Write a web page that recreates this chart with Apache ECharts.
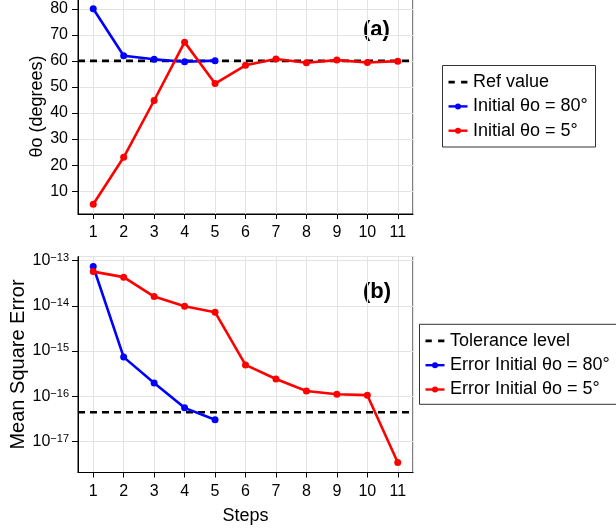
<!DOCTYPE html>
<html>
<head>
<meta charset="utf-8">
<script src="https://cdn.jsdelivr.net/npm/echarts@6/dist/echarts.min.js"></script>
<style>
  html, body { margin: 0; padding: 0; background: #ffffff; }
  #chart { width: 616px; height: 529px; }
</style>
</head>
<body>
<div id="chart"></div>
<script>
// Iteration steps shared by both panels
const steps = [1, 2, 3, 4, 5, 6, 7, 8, 9, 10, 11];
const stepRange = [0.5, 11.5];

// (a) estimated angle per step
const thetaFrom80 = [80, 62.0, 60.6, 59.7, 60.1];
const thetaFrom5 = [5, 23, 44.8, 67.2, 51.3, 58.3, 60.7, 59.3, 60.3, 59.4, 59.9];
const refValue = 60;

// (b) mean square error per step
const errFrom80 = [7.4e-14, 7.3e-16, 1.95e-16, 5.5e-17, 3.0e-17];
const errFrom5 = [5.7e-14, 4.3e-14, 1.6e-14, 9.8e-15, 7.2e-15, 4.9e-16, 2.4e-16, 1.3e-16, 1.1e-16, 1.05e-16, 3.4e-18];
const tolerance = 4.4e-17;

// legend / axis texts
const namesTop = ['Ref value', 'Initial θo = 80°', 'Initial θo = 5°'];
const namesBottom = ['Tolerance level', 'Error Initial θo = 80°', 'Error Initial θo = 5°'];

const FONT = '"Liberation Sans", Arial, Helvetica, sans-serif';
const BLUE = '#0000ff';
const RED = '#ff0000';
const GRID_LINE = '#e3e3e3';
const DASH = [7, 5];

const pairs = (vals) => vals.map((v, i) => [steps[i], v]);
const flat = (v) => stepRange.map((x) => [x, v]);

function xAxisCfg(gridIndex, withName) {
  return {
    type: 'value', gridIndex,
    min: stepRange[0], max: stepRange[1], minInterval: 1, maxInterval: 1,
    name: withName ? 'Steps' : '',
    nameLocation: 'middle', nameGap: 35, nameMoveOverlap: false,
    nameTextStyle: { fontSize: 18, color: '#000', fontFamily: FONT },
    axisLine: { show: true, onZero: false, lineStyle: { color: '#000', width: 1 } },
    axisTick: { show: true, inside: false, length: 5, lineStyle: { color: '#000', width: 1 } },
    axisLabel: { fontSize: 16, color: '#000', margin: 11, fontFamily: FONT, showMinLabel: false, showMaxLabel: false },
    splitLine: { show: true, lineStyle: { color: GRID_LINE, width: 1 } }
  };
}

const lineSeries = (name, data, color, xi, yi) => ({
  name, type: 'line', xAxisIndex: xi, yAxisIndex: yi, data,
  symbol: 'circle', symbolSize: 7,
  lineStyle: { color, width: 2.6 },
  itemStyle: { color },
  z: 3, animation: false
});

const refSeries = (name, value, xi, yi) => ({
  name, type: 'line', xAxisIndex: xi, yAxisIndex: yi, data: flat(value),
  symbol: 'none',
  lineStyle: { color: '#000', width: 2.6, type: DASH },
  itemStyle: { color: '#000' },
  z: 2, silent: true, animation: false
});

// Boxed legend drawn with graphic elements: a dashed reference entry and two marker lines
function boxedLegend(names, colors, box) {
  const children = [{
    type: 'rect',
    shape: { x: box.x, y: box.y, width: box.w, height: box.h },
    style: { fill: '#fff', stroke: '#333', lineWidth: 1 }
  }];
  names.forEach((name, i) => {
    const cy = box.y + 16.6 + i * 24.3;
    const x0 = box.x + 6;
    const x1 = x0 + 19;
    if (i === 0) {
      children.push({
        type: 'line', shape: { x1: x0, y1: cy, x2: x1, y2: cy },
        style: { stroke: '#000', lineWidth: 2.6, lineDash: [6.3, 6.3] }
      });
    } else {
      children.push({
        type: 'line', shape: { x1: x0, y1: cy, x2: x1, y2: cy },
        style: { stroke: colors[i], lineWidth: 2.4 }
      });
      children.push({
        type: 'circle', shape: { cx: (x0 + x1) / 2, cy, r: 3 },
        style: { fill: colors[i] }
      });
    }
    children.push({
      type: 'text', x: box.x + 30.5, y: cy,
      style: { text: name, fontSize: 18, fill: '#000', fontFamily: FONT, verticalAlign: 'middle', align: 'left' }
    });
  });
  return { type: 'group', silent: true, z: 10, children };
}

const legendColors = ['#000', BLUE, RED];

const chart = echarts.init(document.getElementById('chart'), null, { renderer: 'canvas' });

chart.setOption({
  animation: false,
  backgroundColor: '#ffffff',
  textStyle: { fontFamily: FONT },
  grid: [
    { left: 78, top: -1, width: 335, height: 215, outerBoundsMode: 'none', containLabel: false, show: true, borderColor: '#000', borderWidth: 1, backgroundColor: 'transparent' },
    { left: 78, top: 256.5, width: 335, height: 216, outerBoundsMode: 'none', containLabel: false, show: true, borderColor: '#000', borderWidth: 1, backgroundColor: 'transparent' }
  ],
  xAxis: [xAxisCfg(0, false), xAxisCfg(1, true)],
  yAxis: [
    {
      type: 'value', gridIndex: 0,
      min: 1.25, max: 83.75, minInterval: 10, maxInterval: 10,
      name: 'θo (degrees)', nameLocation: 'middle', nameGap: 32, nameMoveOverlap: false,
      nameTextStyle: { fontSize: 18, color: '#000', fontFamily: FONT },
      axisLine: { show: true, lineStyle: { color: '#000', width: 1 } },
      axisTick: { show: true, length: 6, lineStyle: { color: '#000', width: 1 } },
      axisLabel: { fontSize: 16, color: '#000', margin: 10, fontFamily: FONT, showMinLabel: false, showMaxLabel: false },
      splitLine: { show: true, lineStyle: { color: GRID_LINE, width: 1 } }
    },
    {
      type: 'log', logBase: 10, gridIndex: 1,
      min: Math.pow(10, -17.69), max: Math.pow(10, -12.91),
      name: 'Mean Square Error', nameLocation: 'middle', nameGap: 50, nameMoveOverlap: false,
      nameTextStyle: { fontSize: 20, color: '#000', fontFamily: FONT },
      axisLine: { show: true, lineStyle: { color: '#000', width: 1 } },
      axisTick: { show: true, length: 6, lineStyle: { color: '#000', width: 1 } },
      axisLabel: {
        margin: 9, showMinLabel: false, showMaxLabel: false,
        formatter: (v) => {
          const e = String(Math.round(Math.log10(v))).replace('-', '−');
          return '{b|10}{e|' + e + '}';
        },
        rich: {
          b: { fontSize: 16, color: '#000', fontFamily: FONT, verticalAlign: 'bottom', lineHeight: 16 },
          e: { fontSize: 11, color: '#000', fontFamily: FONT, verticalAlign: 'top', lineHeight: 11 }
        }
      },
      splitLine: { show: true, lineStyle: { color: GRID_LINE, width: 1 } }
    }
  ],
  graphic: [
    { type: 'text', left: 363, top: 19, style: { text: '(a)', fontSize: 22, fontWeight: 'bold', fill: '#000', fontFamily: FONT } },
    { type: 'text', left: 363, top: 280.5, style: { text: '(b)', fontSize: 22, fontWeight: 'bold', fill: '#000', fontFamily: FONT } },
    boxedLegend(namesTop, legendColors, { x: 442.5, y: 65.5, w: 153, h: 81.5 }),
    boxedLegend(namesBottom, legendColors, { x: 419.5, y: 324.3, w: 204, h: 80 })
  ],
  series: [
    refSeries(namesTop[0], refValue, 0, 0),
    lineSeries(namesTop[1], pairs(thetaFrom80), BLUE, 0, 0),
    lineSeries(namesTop[2], pairs(thetaFrom5), RED, 0, 0),
    refSeries(namesBottom[0], tolerance, 1, 1),
    lineSeries(namesBottom[1], pairs(errFrom80), BLUE, 1, 1),
    lineSeries(namesBottom[2], pairs(errFrom5), RED, 1, 1)
  ]
});
</script>
</body>
</html>
